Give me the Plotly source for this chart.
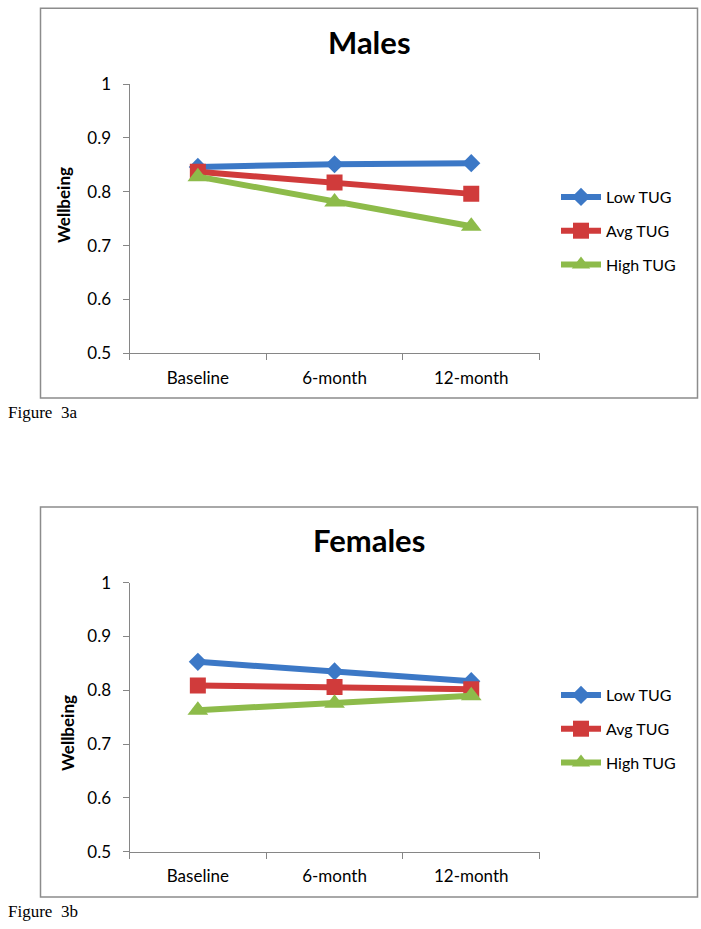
import plotly.graph_objects as go

categories = ["Baseline", "6-month", "12-month"]
series_names = ["Low TUG", "Avg TUG", "High TUG"]

males_low = [0.846, 0.851, 0.853]
males_avg = [0.837, 0.817, 0.796]
males_high = [0.828, 0.781, 0.736]

females_low = [0.853, 0.835, 0.817]
females_avg = [0.809, 0.806, 0.802]
females_high = [0.763, 0.776, 0.790]

y_ticks = [0.5, 0.6, 0.7, 0.8, 0.9, 1]
y_tick_labels = ["0.5", "0.6", "0.7", "0.8", "0.9", "1"]

colors = ["#3C78C6", "#D03B3B", "#8DBB4A"]
symbols = ["diamond", "square", "triangle-up"]
msizes = [14, 16, 18]

W, H = 701, 929
def px(x):
    return x / W
def py(y):
    return 1 - y / H

FONT = "Lato, Carlito, sans-serif"

fig = go.Figure()

panels = [
    ("Males", [males_low, males_avg, males_high], "x", "y", "legend"),
    ("Females", [females_low, females_avg, females_high], "x2", "y2", "legend2"),
]

for title, data, xa, ya, lg in panels:
    for i, (name, vals) in enumerate(zip(series_names, data)):
        fig.add_trace(go.Scatter(
            x=categories, y=vals, name=name, xaxis=xa, yaxis=ya, legend=lg,
            legendgroup=lg + name,
            mode="lines+markers",
            line=dict(color=colors[i], width=6),
            marker=dict(symbol=symbols[i], size=msizes[i], color=colors[i],
                        line=dict(width=0)),
        ))

axis_font = dict(family=FONT, size=17, color="#000000")
gray = "#868686"

common_x = dict(type="category", range=[-0.5, 2.5], tickson="boundaries",
                ticks="outside", ticklen=6, tickcolor=gray, showline=True,
                linecolor=gray, linewidth=1, showgrid=False, zeroline=False,
                tickfont=axis_font, domain=[px(129.5), px(539.6)], fixedrange=True,
                automargin=False, ticklabelstandoff=9)
common_y = dict(range=[0.5, 1], tickvals=y_ticks, ticktext=y_tick_labels,
                ticks="outside", ticklen=6, tickcolor=gray, showline=True,
                linecolor=gray, linewidth=1, showgrid=False, zeroline=False,
                tickfont=axis_font, ticklabelstandoff=8, fixedrange=True,
                automargin=False)

legend_font = dict(family=FONT, size=16, color="#000")

fig.update_layout(
    width=W, height=H,
    margin=dict(l=0, r=0, t=0, b=0, pad=0, autoexpand=False),
    paper_bgcolor="white", plot_bgcolor="white",
    xaxis=dict(**common_x, anchor="y"),
    yaxis=dict(**common_y, domain=[py(353.3), py(84)], anchor="x"),
    xaxis2=dict(**common_x, anchor="y2"),
    yaxis2=dict(**common_y, domain=[py(851.7), py(582.7)], anchor="x2"),
    legend=dict(x=px(556), y=py(231), xanchor="left", yanchor="middle",
                font=legend_font, itemwidth=40, tracegroupgap=10,
                bgcolor="rgba(0,0,0,0)"),
    legend2=dict(x=px(556), y=py(729), xanchor="left", yanchor="middle",
                 font=legend_font, itemwidth=40, tracegroupgap=10,
                 bgcolor="rgba(0,0,0,0)"),
    showlegend=True,
)

# chart borders
for y0, y1 in [(398, 8.3), (897, 507)]:
    fig.add_shape(type="rect", xref="paper", yref="paper",
                  x0=px(40.5), x1=px(697.5), y0=py(y0), y1=py(y1),
                  line=dict(color="#8C8C8C", width=1.5), fillcolor="rgba(0,0,0,0)")

def label(text, x, y, size, family=FONT, angle=0, xanchor="center"):
    fig.add_annotation(text=text, x=px(x), y=py(y), xref="paper", yref="paper",
                       xanchor=xanchor, yanchor="middle", textangle=angle,
                       showarrow=False, font=dict(family=family, size=size, color="#000"))

# titles
label("<b>Males</b>", 369, 42, 31)
label("<b>Females</b>", 369, 540, 31)

# y axis titles
label("<b>Wellbeing</b>", 63, 205, 17, angle=-90)
label("<b>Wellbeing</b>", 67, 733, 17, angle=-90)

# figure captions
SERIF = "Liberation Serif, Times New Roman, serif"
label("Figure  3a", 6, 412, 17, family=SERIF, xanchor="left")
label("Figure  3b", 6, 911, 17, family=SERIF, xanchor="left")

fig.write_html("out.html", config={"displayModeBar": False},
               post_script="document.body.style.margin='0';document.body.style.overflow='hidden';")
